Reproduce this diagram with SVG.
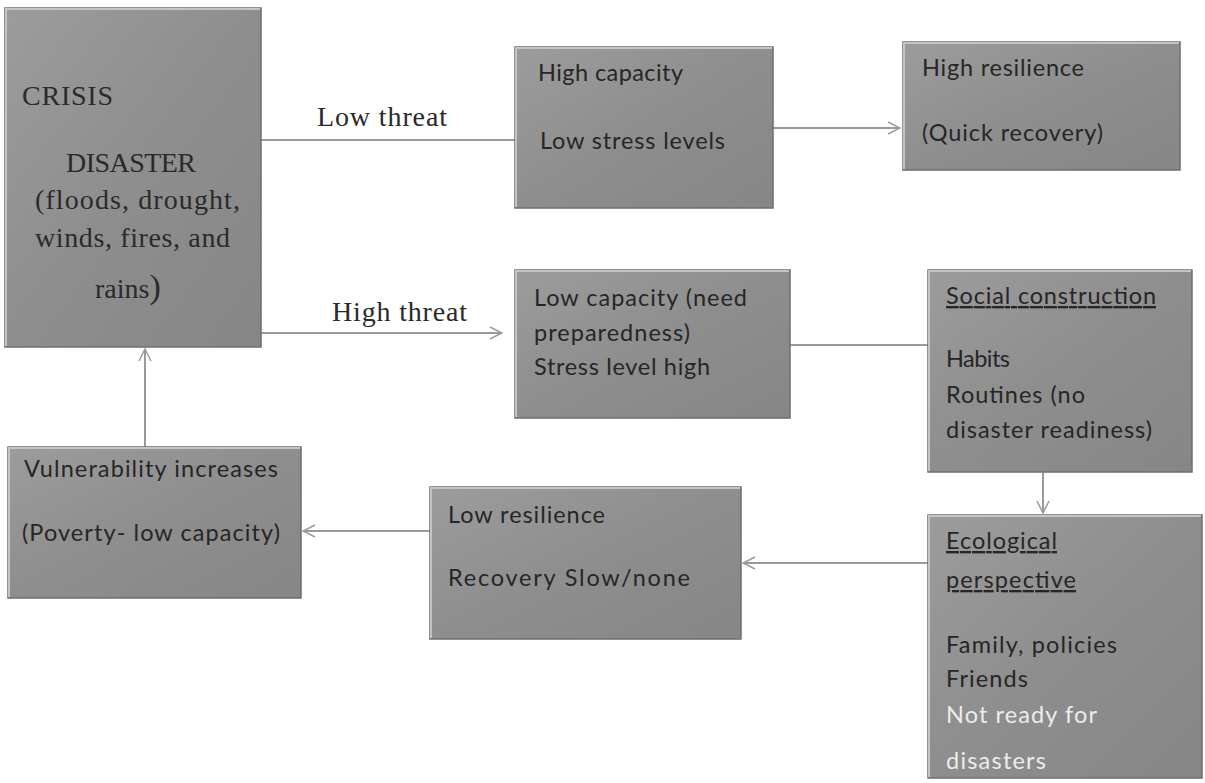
<svg xmlns="http://www.w3.org/2000/svg" width="1205" height="783" viewBox="0 0 1205 783">
<defs>
<linearGradient id="g" x1="0" y1="0" x2="1" y2="1">
<stop offset="0" stop-color="#9c9c9c"/>
<stop offset="0.5" stop-color="#8e8e8e"/>
<stop offset="1" stop-color="#868686"/>
</linearGradient>
<marker id="arr" viewBox="0 0 14 14" refX="13" refY="7" markerWidth="14" markerHeight="14" markerUnits="userSpaceOnUse" orient="auto">
<path d="M1,1 L13,7 L1,13" fill="none" stroke="#9a9a9a" stroke-width="1.5"/>
</marker>
<style>
.box{fill:url(#g);stroke:#6e6e6e;stroke-width:1.5}
.hl{fill:none;stroke:#c4c4c4;stroke-width:2}
.t{font-family:Lato,"Open Sans",sans-serif;font-size:23.5px;fill:#262626}
.w{fill:#ececec}
.s{font-family:"Liberation Serif",serif;font-size:28px;fill:#2a2a2a}
.c{stroke:#9a9a9a;stroke-width:2;fill:none}
</style>
</defs>
<rect width="1205" height="783" fill="#ffffff"/>
<g id="connectors">
<line class="c" x1="261" y1="140" x2="515" y2="140"/>
<line class="c" x1="773" y1="128" x2="900" y2="128" marker-end="url(#arr)"/>
<line class="c" x1="261" y1="333" x2="502" y2="333" marker-end="url(#arr)"/>
<line class="c" x1="790" y1="345" x2="928" y2="345"/>
<line class="c" x1="1043" y1="473" x2="1043" y2="513" marker-end="url(#arr)"/>
<line class="c" x1="928" y1="563" x2="743" y2="563" marker-end="url(#arr)"/>
<line class="c" x1="430" y1="531" x2="303" y2="531" marker-end="url(#arr)"/>
<line class="c" x1="145" y1="447" x2="145" y2="349" marker-end="url(#arr)"/>
<text class="s" x="317" y="126" textLength="130">Low threat</text>
<text class="s" x="332" y="321" textLength="135">High threat</text>
</g>
<g id="crisis">
<rect class="box" x="5" y="8" width="256" height="339"/>
<polyline class="hl" points="6,346 6,9 260,9"/>
<text class="s" x="22" y="105" textLength="91">CRISIS</text>
<text class="s" x="66" y="172" textLength="130">DISASTER</text>
<text class="s" x="35" y="209" textLength="205">(floods, drought,</text>
<text class="s" x="35" y="247" textLength="195">winds, fires, and</text>
<text class="s" x="95" y="298">rains<tspan font-size="34">)</tspan></text>
</g>
<g id="high-capacity">
<rect class="box" x="515" y="47" width="258" height="161"/>
<polyline class="hl" points="516,207 516,48 772,48"/>
<text class="t" x="538" y="81" textLength="145">High capacity</text>
<text class="t" x="540" y="149" textLength="185">Low stress levels</text>
</g>
<g id="high-resilience">
<rect class="box" x="903" y="42" width="277" height="128"/>
<polyline class="hl" points="904,169 904,43 1179,43"/>
<text class="t" x="922" y="76" textLength="162">High resilience</text>
<text class="t" x="922" y="141" textLength="181">(Quick recovery)</text>
</g>
<g id="low-capacity">
<rect class="box" x="515" y="270" width="275" height="148"/>
<polyline class="hl" points="516,417 516,271 789,271"/>
<text class="t" x="534" y="306" textLength="213">Low capacity (need</text>
<text class="t" x="534" y="341" textLength="156">preparedness)</text>
<text class="t" x="534" y="375" textLength="176">Stress level high</text>
</g>
<g id="social-construction">
<rect class="box" x="928" y="270" width="264" height="202"/>
<polyline class="hl" points="929,471 929,271 1191,271"/>
<text class="t" x="946" y="304" textLength="210" text-decoration="underline">Social construction</text>
<text class="t" x="946" y="367" textLength="64">Habits</text>
<text class="t" x="946" y="403" textLength="139">Routines (no</text>
<text class="t" x="946" y="438" textLength="206">disaster readiness)</text>
</g>
<g id="ecological-perspective">
<rect class="box" x="928" y="515" width="274" height="263"/>
<polyline class="hl" points="929,777 929,516 1201,516"/>
<text class="t" x="946" y="549" textLength="111" text-decoration="underline">Ecological</text>
<text class="t" x="946" y="588" textLength="130" text-decoration="underline">perspective</text>
<text class="t" x="946" y="653" textLength="171">Family, policies</text>
<text class="t" x="946" y="687" textLength="82">Friends</text>
<text class="t w" x="946" y="723" textLength="151">Not ready for</text>
<text class="t w" x="946" y="769" textLength="100">disasters</text>
</g>
<g id="low-resilience">
<rect class="box" x="430" y="487" width="311" height="152"/>
<polyline class="hl" points="431,638 431,488 740,488"/>
<text class="t" x="448" y="523" textLength="157">Low resilience</text>
<text class="t" x="448" y="586" textLength="242">Recovery Slow/none</text>
</g>
<g id="vulnerability">
<rect class="box" x="8" y="447" width="293" height="151"/>
<polyline class="hl" points="9,597 9,448 300,448"/>
<text class="t" x="24" y="477" textLength="254">Vulnerability increases</text>
<text class="t" x="22" y="541" textLength="258">(Poverty- low capacity)</text>
</g>
</svg>
